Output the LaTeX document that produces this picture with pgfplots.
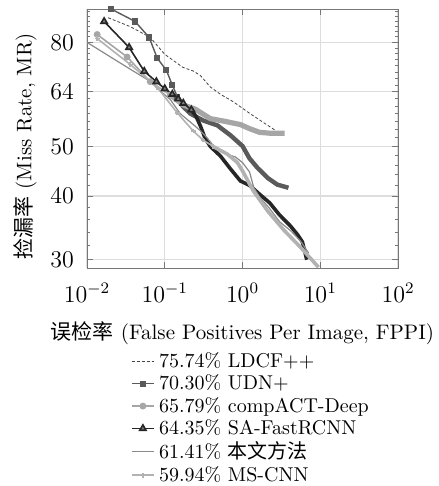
\documentclass[border=0pt]{standalone}
\usepackage{fontspec}
\usepackage{pgfplots}
\pgfplotsset{compat=1.18}
\newfontfamily\cjk{Noto Sans CJK SC}

\definecolor{cldcf}{HTML}{444444}
\definecolor{cudn}{HTML}{5A5A5A}
\definecolor{ccompact}{HTML}{A6A6A6}
\definecolor{csa}{HTML}{262626}
\definecolor{cours}{HTML}{8A8A8A}
\definecolor{cms}{HTML}{B2B2B2}
\definecolor{cgrid}{HTML}{DDDDDD}
\definecolor{caxis}{HTML}{777777}

\begin{document}
\begin{tikzpicture}
\begin{axis}[
    scale only axis,
    width=155.5pt, height=129.5pt,
    xmode=log, ymode=log,
    xmin=0.01, xmax=100,
    ymin=28.9, ymax=93,
    xtick={0.01,0.1,1,10,100},
    xminorticks=false,
    ytick={30,40,50,64,80},
    yticklabels={30,40,50,64,80},
    minor ytick={30,32,...,92},
    grid=major,
    major grid style={cgrid, line width=0.6pt},
    axis line style={caxis},
    every tick/.style={caxis},
    major tick length=3pt,
    minor tick length=1.6pt,
    tick label style={font=\large},
    xticklabel style={yshift=-4pt},
    yticklabel style={xshift=-3pt},
    label style={font=\fontsize{10.5}{12.6}\selectfont},
    xlabel style={yshift=-3pt},
    ylabel style={at={(ticklabel cs:0.47)}},
    xlabel={{\cjk 误检率} (False Positives Per Image, FPPI)},
    ylabel={{\cjk 捡漏率} (Miss Rate, MR)},
    legend style={at={(0.12,-0.293)}, anchor=north west, draw=none,
        fill=none, cells={anchor=west}, row sep=-1.8pt},
    legend image code/.code={%
        \draw[mark repeat=2,mark phase=2]
        plot coordinates {(0cm,0cm) (0.2cm,0cm) (0.4cm,0cm)};},
]
% LDCF++
\addplot[cldcf, dash pattern=on 1.5pt off 1pt, line width=0.4pt] coordinates {
 (0.0187,89.4) (0.036,85.9) (0.065,81.8) (0.1,75.8) (0.17,71.5)
 (0.233,70.3) (0.287,68.9) (0.386,65.4) (0.52,63.3) (0.76,61.2)
 (1.23,58.1) (1.86,55.7) (2.59,53.9)};
\addlegendentry{75.74\% LDCF++}
% UDN+
\addplot[cudn, line width=0.7pt, mark=square*, mark size=1.2pt] coordinates {
 (0.0204,93) (0.0416,87.9) (0.063,81.8) (0.080,74.5) (0.1046,70.6)
 (0.125,66.0) (0.145,62.6)};
\addlegendentry{70.30\% UDN+}
\addplot[cudn, line width=2.2pt, forget plot] coordinates {
 (0.145,62.6) (0.17,60.0) (0.213,58.0) (0.314,56.2) (0.475,55.0)
 (0.70,52.6) (1.0,50.1) (1.23,47.4) (1.56,45.4) (2.1,43.4)
 (2.8,42.1) (3.9,41.5)};
% compACT-Deep
\addplot[ccompact, line width=0.8pt, mark=*, mark size=1.3pt] coordinates {
 (0.0135,82.9) (0.0328,74.9) (0.065,67.0) (0.118,63.1)};
\addlegendentry{65.79\% compACT-Deep}
\addplot[ccompact, line width=2.6pt, forget plot] coordinates {
 (0.118,63.1) (0.173,60.3) (0.246,59.2) (0.386,56.7) (0.6,56.0)
 (0.94,55.2) (1.23,54.2) (1.66,53.3) (2.23,53.1) (3.48,53.1)};
% SA-FastRCNN
\addplot[csa, line width=0.8pt, mark=triangle*, mark size=1.8pt,
    mark options={fill=csa!60}] coordinates {
 (0.0166,87.9) (0.0348,78.2) (0.0545,70.2) (0.078,67.0) (0.1,64.9)
 (0.125,63.3) (0.149,62.0) (0.173,60.8) (0.22,59.0)};
\addlegendentry{64.35\% SA-FastRCNN}
\addplot[csa, line width=1.8pt, forget plot] coordinates {
 (0.22,59.0) (0.254,57.2) (0.287,54.9) (0.33,51.9) (0.386,50.0)
 (0.52,47.9) (0.70,45.2) (0.94,42.8) (1.25,41.9) (1.66,40.3)
 (2.23,38.8) (3.0,36.7) (4.16,34.9) (5.1,33.6) (5.9,32.5) (6.7,30.0)};
% ours
\addplot[cours, line width=0.6pt] coordinates {
 (0.01,80) (0.0198,75.0) (0.0359,70.9) (0.065,67.1) (0.087,64.3)
 (0.118,61.8) (0.158,58.0) (0.233,55.2) (0.287,53.7) (0.35,52.0)
 (0.45,49.6) (0.6,48.4) (0.81,47.7) (1.0,46.5) (1.23,44.6)
 (1.4,41.5) (1.66,39.8) (2.23,37.8) (3.0,35.6) (4.16,34.2)
 (5.6,32.6) (7.1,30.9)};
\addlegendentry{61.41\% {\cjk 本文方法}}
% MS-CNN
\addplot[cms, line width=0.8pt, mark=+, mark size=1.2pt] coordinates {
 (0.0135,81.4) (0.036,72.4) (0.08,65.3) (0.145,58.2) (0.233,53.6)
 (0.31,51.5) (0.42,50.0)};
\addlegendentry{59.94\% MS-CNN}
\addplot[cms, line width=1.8pt, forget plot] coordinates {
 (0.42,50.0) (0.64,48.3) (0.86,46.5) (1.0,44.8) (1.38,40.9)
 (2.1,37.4) (3.4,34.3) (5.6,31.7) (9.5,29.0)};
\end{axis}
\pgfresetboundingbox
\path ([shift={(-43.5pt,4.5pt)}]current axis.north west) rectangle ++(219pt,-243pt);
\end{tikzpicture}
\end{document}
